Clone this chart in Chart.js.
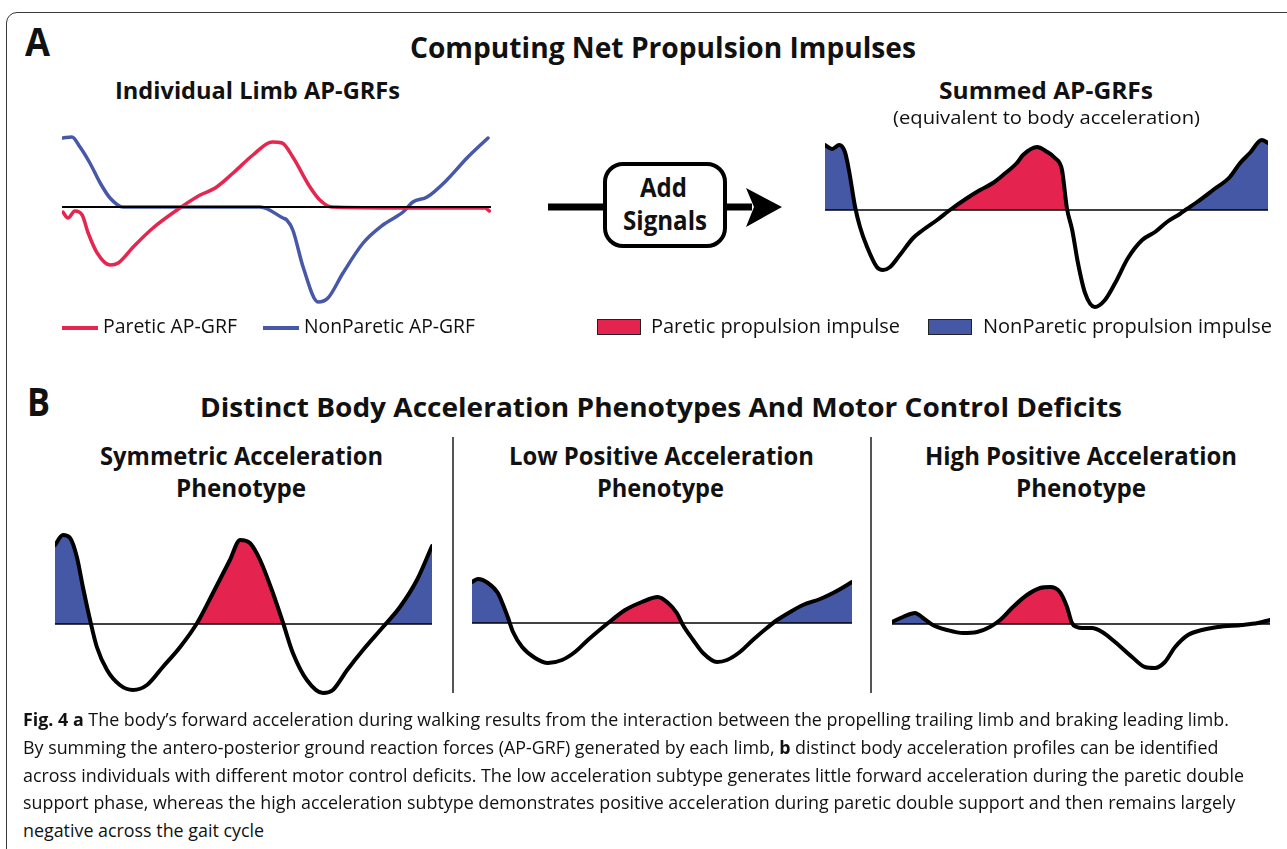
<!DOCTYPE html>
<html>
<head>
<meta charset="utf-8">
<script src="https://cdn.jsdelivr.net/npm/chart.js@4.4.1/dist/chart.umd.min.js"></script>
<style>
html,body{margin:0;padding:0;background:#fff;}
body{width:1287px;height:849px;position:relative;overflow:hidden;}
.frame{position:absolute;left:6px;top:12px;width:1320px;height:900px;border:1.5px solid #3a3a3a;border-radius:11px;box-sizing:border-box;}
.t{position:absolute;white-space:nowrap;line-height:1;color:#111;transform-origin:0 0;left:0;top:0;}
.bl{display:inline-block;width:0;height:0;vertical-align:baseline;}
canvas{position:absolute;}
.sep{position:absolute;width:1.5px;background:#555;top:437px;height:256px;}
.lline{position:absolute;height:4px;top:326px;width:36px;}
.lrect{position:absolute;top:319px;width:44px;height:16px;border:1.5px solid #222;box-sizing:border-box;}
</style>
</head>
<body>
<div class="frame"></div>
<svg style="position:absolute;left:0;top:0" width="1287" height="849">
  <line x1="548" y1="207" x2="605" y2="207" stroke="#000" stroke-width="7"/>
  <rect x="605" y="164" width="120" height="82" rx="18" ry="18" fill="#fff" stroke="#000" stroke-width="4"/>
  <line x1="725" y1="207" x2="752" y2="207" stroke="#000" stroke-width="7"/>
  <polygon points="746,188 782,207 746,227 754,207" fill="#000"/>
</svg>
<div class="sep" style="left:452px"></div>
<div class="sep" style="left:870px"></div>
<div class="lline" style="left:62px;background:#e5264f"></div>
<div class="lline" style="left:263px;background:#4858a8"></div>
<div class="lrect" style="left:597px;background:#e5234f"></div>
<div class="lrect" style="left:928px;background:#4558a5"></div>

<script>
// ---------------- DATA (gait cycle %, relative AP force units) ----------------
// Panel A – individual limbs
const limbParX = [0.2,1.4,3.0,4.7,6.1,8.2,11.2,13.1,16.6,21.2,26.8,32.2,35.7,39.9,44.5,49.0,51.3,53.8,57.8,60.1,62.9,80,98.6,99.6];
const limbParY = [-5,-11,-4,-8,-26,-46,-58,-56,-40,-21,-3,12,19,34,52,65,64,50,20,7,0,-1,-1,-4];
const limbNonX = [0.2,2.3,4.2,6.5,8.9,11.2,14.2,30,46.2,51.5,52.4,53.8,56.2,59.7,62.0,65.5,70.2,74.8,79.5,81.8,85.1,89.7,94.4,99.3];
const limbNonY = [69,70,60,44,24,9,0,0,0,-11,-13,-23,-60,-95,-91,-66,-36,-18,-5,5,10,27,49,69];
// Panel A – summed
const sumX = [0,1.6,3.2,4.5,5.4,6.8,7.9,9.5,11.7,13.1,14.7,16.9,19.9,22.1,25.3,28.2,32.1,35.0,37.9,40.2,43.3,44.7,47.9,49.8,51.9,53.5,54.6,55.8,57.1,58.7,60.9,63.2,65.5,68.4,71.6,74.5,77.2,80.1,81.7,84.0,87.6,91.4,93.7,95.9,98.6,100];
const sumY = [65,61,65,58,40,3,-17,-37,-57,-60,-57,-45,-28,-20,-10,0,12,20,27,35,47,55,63,59,52,40,2,-20,-53,-83,-97,-90,-73,-48,-30,-22,-12,-4,1,8,20,33,47,57,70,67];
// Panel B – phenotypes
const symX = [0,2.1,4.0,5.8,7.4,9.3,11.1,13.8,17.2,20.7,24.4,28.6,33.2,37.7,41.9,46.4,49.1,51.7,54.4,57.8,60.5,63.1,66.8,71.1,73.7,77.5,81.7,87.0,91.5,96.0,100];
const symY = [79,89,86,67,37,4,-23,-46,-61,-66,-61,-43,-23,1,31,64,84,81,64,31,1,-29,-56,-69,-66,-46,-26,-3,17,44,78];
const lowX = [0,1.6,4.2,6.8,8.2,9.5,10.8,13.2,16.6,20.0,23.7,27.1,30.5,34.2,36.8,40.3,44.7,48.9,51.6,53.9,55.5,58.2,60.8,64.5,67.1,70.5,73.9,77.6,80.3,83.7,87.1,91.6,95.0,97.4,100];
const lowY = [41,44,40,30,18,5,-9,-24,-35,-40,-37,-29,-17,-5,3,13,21,26,20,10,-2,-17,-30,-39,-37,-29,-17,-5,3,11,18,24,30,35,41];
const highX = [0,2.9,6.1,8.2,10.8,14.6,18.8,22.5,25.9,28.6,32.0,35.7,39.2,41.8,44.4,46.3,47.6,48.9,50.3,52.9,55.6,59.0,63.5,66.9,69.6,72.2,74.9,78.3,82.0,86.2,92.6,96.8,100];
const highY = [2,7,11,6,-1,-6,-9,-8,-3,4,17,29,36,37,32,17,1,-3,-4,-4,-8,-18,-33,-43,-44,-38,-23,-11,-6,-3,-1,1,4];
// Phase boundaries (gait %) separating NonParetic | Paretic | NonParetic propulsion
const sumPhase  = [18, 68];
const symPhase  = [22, 74];
const lowPhase  = [22, 66];
const highPhase = [20, 70];

// ---------------- STYLE ----------------
const RED = '#e5234f', BLUE = '#4558a5', RED_LINE = '#e5264f', BLUE_LINE = '#4858a8';
const P = 8;
const pts = (xs, ys) => xs.map((x, i) => ({x, y: ys[i]}));
const zero = [{x:0,y:0},{x:100,y:0}];

function phaseFill(b){
  return (ctx) => {
    const ch = ctx.chart, a = ch.chartArea, sx = ch.scales.x;
    if (!a || !sx) return BLUE;
    const g = ch.ctx.createLinearGradient(a.left, 0, a.right, 0);
    const f = v => Math.min(1, Math.max(0, (sx.getPixelForValue(v) - a.left) / (a.right - a.left)));
    g.addColorStop(0, BLUE); g.addColorStop(f(b[0]), BLUE);
    g.addColorStop(f(b[0]), RED); g.addColorStop(f(b[1]), RED);
    g.addColorStop(f(b[1]), BLUE); g.addColorStop(1, BLUE);
    return g;
  };
}

function makeChart(L, datasets){
  const cv = document.createElement('canvas');
  const w = L.x1 - L.x0 + 2*P, h = L.ymax - L.ymin + 2*P;
  cv.width = w; cv.height = h;
  cv.style.width = w + 'px'; cv.style.height = h + 'px';
  cv.style.left = (L.x0 - P) + 'px'; cv.style.top = (L.zeroY - L.ymax - P) + 'px';
  document.body.appendChild(cv);
  new Chart(cv, {
    type: 'line',
    data: {datasets},
    options: {
      responsive: false, animation: false, devicePixelRatio: 1, events: [],
      layout: {padding: P},
      plugins: {legend: {display: false}, tooltip: {enabled: false}, filler: {drawTime: 'beforeDatasetsDraw'}},
      scales: {
        x: {type: 'linear', display: false, min: 0, max: 100},
        y: {display: false, min: L.ymin, max: L.ymax}
      },
      elements: {point: {radius: 0}, line: {borderCapStyle: 'round', borderJoinStyle: 'round'}}
    }
  });
}

function curveSet(xs, ys, phase){
  const d = pts(xs, ys);
  return [
    {data: d, borderColor: '#000', borderWidth: 4, cubicInterpolationMode: 'monotone', fill: false},
    {data: zero, borderColor: '#000', borderWidth: 1.6, fill: false, tension: 0},
    {data: d, borderColor: 'rgba(0,0,0,0)', borderWidth: 1, cubicInterpolationMode: 'monotone',
     backgroundColor: phaseFill(phase), fill: {target: 'origin', below: 'rgba(0,0,0,0)'}}
  ];
}

// Individual limbs
makeChart({x0:62, x1:491, zeroY:207, ymin:-105, ymax:80}, [
  {data: zero, borderColor: '#000', borderWidth: 2, fill: false, tension: 0},
  {data: pts(limbParX, limbParY), borderColor: RED_LINE, borderWidth: 3.5, cubicInterpolationMode: 'monotone', fill: false},
  {data: pts(limbNonX, limbNonY), borderColor: BLUE_LINE, borderWidth: 3.5, cubicInterpolationMode: 'monotone', fill: false}
]);
// Summed
makeChart({x0:825, x1:1268, zeroY:210, ymin:-105, ymax:80}, curveSet(sumX, sumY, sumPhase));
// Phenotypes
makeChart({x0:55, x1:432, zeroY:624, ymin:-78, ymax:95}, curveSet(symX, symY, symPhase));
makeChart({x0:472, x1:852, zeroY:623, ymin:-50, ymax:52}, curveSet(lowX, lowY, lowPhase));
makeChart({x0:892, x1:1270, zeroY:624, ymin:-52, ymax:45}, curveSet(highX, highY, highPhase));

// ---------------- TEXT ----------------
const B = "700 {s}px 'Open Sans', 'Noto Sans', sans-serif";
const R = "400 {s}px 'Open Sans', 'Noto Sans', sans-serif";
const N = "{w} {s}px 'Liberation Sans Narrow', 'Open Sans', sans-serif";
const fb = s => B.replace('{s}', s), fr = s => R.replace('{s}', s), fn = (w, s) => N.replace('{w}', w).replace('{s}', s);
const texts = [
  {h:'A', x:25, y:56, w:25, f:fb(39)},
  {h:'Computing Net Propulsion Impulses', x:410, y:58, w:506, f:fb(28)},
  {h:'Individual Limb AP-GRFs', x:115, y:99, w:285, f:fb(24)},
  {h:'Summed AP-GRFs', x:939, y:99, w:214, f:fb(24)},
  {h:'(equivalent to body acceleration)', x:893, y:124, w:307, f:fr(18)},
  {h:'Paretic AP-GRF', x:103, y:333, w:134, f:fr(20)},
  {h:'NonParetic AP-GRF', x:304, y:333, w:171, f:fr(20)},
  {h:'Paretic propulsion impulse', x:651, y:333, w:249, f:fr(20)},
  {h:'NonParetic propulsion impulse', x:983, y:333, w:289, f:fr(20)},
  {h:'Add', x:640, y:197, w:47, f:fn(700, 27)},
  {h:'Signals', x:623, y:230, w:84, f:fn(700, 27)},
  {h:'B', x:27, y:416, w:23, f:fb(39)},
  {h:'Distinct Body Acceleration Phenotypes And Motor Control Deficits', x:200, y:417, w:922, f:fb(27)},
  {h:'Symmetric Acceleration', x:100, y:465, w:283, f:fb(25)},
  {h:'Phenotype', x:176, y:497, w:130, f:fb(25)},
  {h:'Low Positive Acceleration', x:509, y:465, w:305, f:fb(25)},
  {h:'Phenotype', x:597, y:497, w:127, f:fb(25)},
  {h:'High Positive Acceleration', x:925, y:465, w:312, f:fb(25)},
  {h:'Phenotype', x:1016, y:497, w:130, f:fb(25)}
];
const caption = [
  {h:'<b>Fig. 4 a</b> The body’s forward acceleration during walking results from the interaction between the propelling trailing limb and braking leading limb.', y:726, w:1242},
  {h:'By summing the antero-posterior ground reaction forces (AP-GRF) generated by each limb, <b>b</b> distinct body acceleration profiles can be identified', y:754, w:1135},
  {h:'across individuals with different motor control deficits. The low acceleration subtype generates little forward acceleration during the paretic double', y:782, w:1242},
  {h:'support phase, whereas the high acceleration subtype demonstrates positive acceleration during paretic double support and then remains largely', y:809, w:1210},
  {h:'negative across the gait cycle', y:837, w:247}
];
function mk(t){
  const el = document.createElement('div');
  el.className = 't';
  el.style.font = t.f;
  el.innerHTML = t.h + '<i class="bl"></i>';
  document.body.appendChild(el);
  const nat = el.getBoundingClientRect().width;
  const base = el.querySelector('.bl').offsetTop;
  el.style.left = t.x + 'px';
  el.style.top = (t.y - base) + 'px';
  return {el, nat};
}
for (const t of texts){
  const {el, nat} = mk(t);
  el.style.transform = 'scaleX(' + (t.w / nat) + ')';
}
// caption: one common horizontal scale for all lines
const capEls = caption.map(c => mk({h:c.h, x:23, y:c.y, f:fn(400, 17.5)}));
let sumT = 0, sumN = 0;
caption.forEach((c, i) => { sumT += c.w; sumN += capEls[i].nat; });
const capScale = sumT / sumN;
capEls.forEach(c => { c.el.style.transform = 'scaleX(' + capScale + ')'; });
</script>
</body>
</html>
